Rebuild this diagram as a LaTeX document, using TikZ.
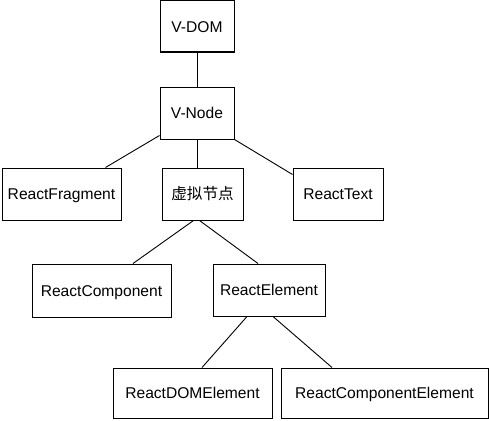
\documentclass[tikz,border=0pt]{standalone}
\usepackage{fontspec}
\setmainfont{Liberation Sans}
\newfontfamily\cjk{Noto Sans CJK SC}
\usetikzlibrary{positioning, calc}

\begin{document}
\begin{tikzpicture}[x=1pt, y=-1pt]
        \tikzstyle{box} = [rectangle, draw=black, line width=1pt, inner sep=0pt, minimum height=52pt, text height=11.2pt, text depth=0pt, text centered, font=\fontsize{15.6}{18}\selectfont]
        \tikzstyle{link} = [line width=0.9pt]

        \useasboundingbox (0,0) rectangle (489,420);

        \node (vdom) [box, minimum width=74pt, minimum height=51pt] at (197,26.5) {V-DOM};
        \node (vnode) [box, minimum width=74pt] at (197,113) {V-Node};
        \node (fragment) [box, minimum width=119pt] at (61.5,194) {ReactFragment};
        \node (vitual) [box, minimum width=81pt] at (202.5,194) {\cjk 虚拟节点};
        \node (text) [box, minimum width=90pt] at (338,194) {ReactText};
        \node (component) [box, minimum width=139pt, minimum height=53pt] at (101.5,290.5) {ReactComponent};
        \node (element) [box, minimum width=112pt] at (269,290) {ReactElement};
        \node (domelem) [box, minimum width=159pt, minimum height=50pt] at (192.5,393) {ReactDOMElement};
        \node (compelem) [box, minimum width=207pt, minimum height=50pt] at (384.5,393) {ReactComponentElement};

        \draw [link] (vdom) -- (vnode);
        \draw [link] ($(vnode.south west)+(0,-4)$) -- ($(fragment.north east)+(-16,0)$);
        \draw [link] (vnode.south) -- (vnode.south |- vitual.north);
        \draw [link] (vnode.south east) -- ($(text.north west)+(0,7)$);
        \draw [link] ($(vitual.south)+(-9,0)$) -- ($(component.north)+(31.5,0)$);
        \draw [link] ($(vitual.south)+(-3,0)$) -- ($(element.north)+(-11,0)$);
        \draw [link] ($(element.south)+(-22,0)$) -- ($(domelem.north)+(9.5,0)$);
        \draw [link] ($(element.south)+(4,0)$) -- ($(compelem.north)+(-52.5,0)$);
    \end{tikzpicture}
\end{document}
